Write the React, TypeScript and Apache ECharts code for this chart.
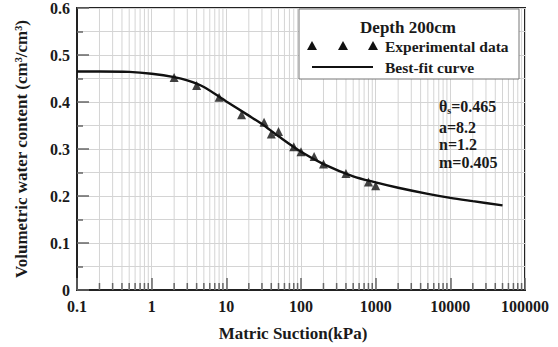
import React, { useEffect, useRef } from "react";
import * as echarts from "echarts";

const FONT = '"Liberation Serif", "Times New Roman", serif';

// Observed (experimental) data
const suctionObs = [2, 4, 8, 16, 32, 40, 50, 80, 100, 150, 200, 400, 800, 1000];
const thetaObs = [0.452, 0.435, 0.41, 0.373, 0.357, 0.332, 0.337, 0.305, 0.294, 0.284, 0.268, 0.248, 0.23, 0.222];

// Best-fit curve
const curveSuction = [0.1, 0.2, 0.5, 1, 2, 3, 5, 10, 20, 30, 50, 100, 200, 500, 1000, 2000, 5000, 10000, 20000, 50000];
const curveTheta = [0.465, 0.465, 0.464, 0.46, 0.453, 0.446, 0.432, 0.401, 0.371, 0.353, 0.327, 0.294, 0.268, 0.242, 0.229, 0.2175, 0.2045, 0.196, 0.189, 0.18];

// Axis tick labels
const xTickLabels = ["0.1", "1", "10", "100", "1000", "10000", "100000"];
const yTickLabels = ["0", "0.1", "0.2", "0.3", "0.4", "0.5", "0.6"];

// Minor log-tick structure
const decades = [0.1, 1, 10, 100, 1000, 10000];
const minorMultipliers = [2, 3, 4, 5, 6, 7, 8, 9];

// Fitted parameter annotation
const paramLines = ["a=8.2", "n=1.2", "m=0.405"];

export default function App() {
  const ref = useRef<HTMLDivElement>(null);

  useEffect(() => {
    if (!ref.current) return;
    const chart = echarts.init(ref.current, undefined, { renderer: "svg" });

    const minorX: number[][] = [];
    decades.forEach((d) =>
      minorMultipliers.forEach((m) => minorX.push([parseFloat((d * m).toPrecision(6)), 0]))
    );

    const bold = { fontFamily: FONT, fontWeight: "bold" as const, color: "#1a1a1a" };

    const option: any = {
      animation: false,
      backgroundColor: "#fff",
      grid: {
        left: 77,
        right: 33,
        top: 6,
        bottom: 53,
        show: true,
        borderColor: "#222",
        borderWidth: 2,
        backgroundColor: "transparent",
      },
      xAxis: {
        type: "log",
        logBase: 10,
        min: 0.1,
        max: 100000,
        name: "Matric Suction(kPa)",
        nameLocation: "middle",
        nameGap: 35,
        nameTextStyle: { ...bold, fontSize: 17, padding: [0, 16, 0, 0] },
        axisLine: { show: true, lineStyle: { color: "#222", width: 2 } },
        axisTick: { show: true, inside: true, length: 12, lineStyle: { color: "#666", width: 1.5 } },
        axisLabel: {
          ...bold,
          fontSize: 16,
          margin: 8,
          formatter: (v: number) => xTickLabels[Math.round(Math.log10(v)) + 1] ?? "",
        },
        splitLine: { show: true, lineStyle: { color: "#d4d4d4", width: 1 } },
      },
      yAxis: {
        type: "value",
        min: 0,
        max: 0.6,
        interval: 0.1,
        name: "Volumetric water content (cm³/cm³)",
        nameLocation: "middle",
        nameGap: 47,
        nameTextStyle: { ...bold, fontSize: 17 },
        axisLine: { show: true, lineStyle: { color: "#222", width: 2 } },
        axisTick: { show: true, inside: true, length: 12, lineStyle: { color: "#666", width: 1.5 } },
        minorTick: { show: true, splitNumber: 2, length: 6, lineStyle: { color: "#666", width: 1.5 } },
        minorSplitLine: { show: true, lineStyle: { color: "#d4d4d4", width: 1 } },
        axisLabel: {
          ...bold,
          fontSize: 16,
          margin: 7,
          formatter: (v: number) => yTickLabels[Math.round(v * 10)] ?? "",
        },
        splitLine: { show: true, lineStyle: { color: "#d4d4d4", width: 1 } },
      },
      series: [
        {
          type: "custom",
          silent: true,
          z: 1,
          data: minorX,
          renderItem: (_p: any, api: any) => {
            const x = api.value(0);
            const p0 = api.coord([x, 0]);
            const p1 = api.coord([x, 0.6]);
            return {
              type: "group",
              children: [
                {
                  type: "line",
                  shape: { x1: p0[0], y1: p0[1], x2: p1[0], y2: p1[1] },
                  style: { stroke: "#d4d4d4", lineWidth: 1 },
                },
                {
                  type: "line",
                  shape: { x1: p0[0], y1: p0[1], x2: p0[0], y2: p0[1] - 7 },
                  style: { stroke: "#666", lineWidth: 1.5 },
                },
              ],
            };
          },
        },
        {
          name: "Best-fit curve",
          type: "line",
          data: curveSuction.map((x, i) => [x, curveTheta[i]]),
          smooth: 0.3,
          showSymbol: false,
          symbol: "none",
          lineStyle: { color: "#111", width: 2.4 },
          z: 3,
        },
        {
          name: "Experimental data",
          type: "scatter",
          data: suctionObs.map((x, i) => [x, thetaObs[i]]),
          symbol: "triangle",
          symbolSize: 9,
          itemStyle: { color: "#111" },
          z: 4,
        },
      ],
      graphic: [
        {
          type: "rect",
          z: 100,
          shape: { x: 299, y: 9, width: 220, height: 70 },
          style: { fill: "#fff", stroke: "#777", lineWidth: 1 },
        },
        {
          type: "text",
          z: 101,
          x: 408,
          y: 27,
          style: { text: "Depth 200cm", fontFamily: FONT, fontWeight: "bold", fontSize: 17, fill: "#1a1a1a", align: "center", verticalAlign: "middle" },
        },
        ...[312, 343, 373].map((cx) => ({
          type: "polygon",
          z: 101,
          shape: { points: [[cx, 41], [cx - 5, 50], [cx + 5, 50]] },
          style: { fill: "#111" },
        })),
        {
          type: "text",
          z: 101,
          x: 385,
          y: 46,
          style: { text: "Experimental data", fontFamily: FONT, fontWeight: "bold", fontSize: 15.5, fill: "#1a1a1a", align: "left", verticalAlign: "middle" },
        },
        {
          type: "line",
          z: 101,
          shape: { x1: 312, y1: 67, x2: 373, y2: 67 },
          style: { stroke: "#111", lineWidth: 2 },
        },
        {
          type: "text",
          z: 101,
          x: 385,
          y: 67,
          style: { text: "Best-fit curve", fontFamily: FONT, fontWeight: "bold", fontSize: 15.5, fill: "#1a1a1a", align: "left", verticalAlign: "middle" },
        },
        {
          type: "text",
          z: 101,
          x: 439,
          y: 106,
          style: {
            text: "{t|θ}{s|s}{t|=0.465}",
            align: "left",
            verticalAlign: "middle",
            rich: {
              t: { fontFamily: FONT, fontWeight: "bold", fontSize: 16, fill: "#1a1a1a", lineHeight: 18, verticalAlign: "middle" },
              s: { fontFamily: FONT, fontWeight: "bold", fontSize: 10, fill: "#1a1a1a", lineHeight: 18, verticalAlign: "bottom" },
            },
          },
        },
        ...paramLines.map((t, i) => ({
          type: "text",
          z: 101,
          x: 439,
          y: [127, 144.5, 162][i],
          style: { text: t, fontFamily: FONT, fontWeight: "bold", fontSize: 16, fill: "#1a1a1a", align: "left", verticalAlign: "middle" },
        })),
      ],
    };

    chart.setOption(option);
    return () => chart.dispose();
  }, []);

  return (
    <div
      ref={ref}
      style={{ position: "fixed", left: 0, top: 0, width: 558, height: 347, background: "#fff" }}
    />
  );
}
